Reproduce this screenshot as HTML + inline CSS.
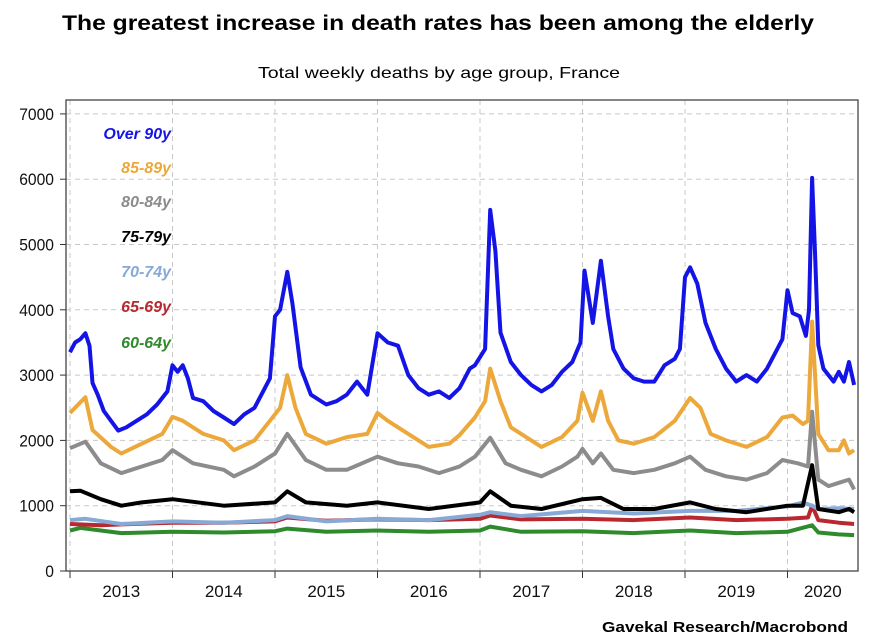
<!DOCTYPE html>
<html><head><meta charset="utf-8"><style>
html,body{margin:0;padding:0;background:#fff;}
svg{display:block;font-family:"Liberation Sans",sans-serif;}
</style></head><body>
<svg id="chart" width="883" height="639" viewBox="0 0 883 639">
<text x="438" y="30" text-anchor="middle" font-size="21" font-weight="bold" textLength="752" lengthAdjust="spacingAndGlyphs">The greatest increase in death rates has been among the elderly</text>
<text x="439" y="78" text-anchor="middle" font-size="16" textLength="362" lengthAdjust="spacingAndGlyphs">Total weekly deaths by age group, France</text>
<text x="848" y="632" text-anchor="end" font-size="15" font-weight="bold" textLength="246" lengthAdjust="spacingAndGlyphs">Gavekal Research/Macrobond</text>
<g id="grid"></g><g id="axes"></g><g id="series"></g><g id="legend"></g>
</svg>
<script>
const yTicks=[0,1000,2000,3000,4000,5000,6000,7000];
const years=["2013","2014","2015","2016","2017","2018","2019","2020"];
const seriesNames=["Over 90y","85-89y","80-84y","75-79y","70-74y","65-69y","60-64y"];
const seriesColors=["#1414e6","#eca83a","#8c8c8c","#000000","#86a9d6","#b8282e","#2e8a2a"];
// times in years since Jan 2013; values in deaths
const over90T=[0,0.05,0.1,0.15,0.19,0.22,0.27,0.33,0.4,0.47,0.55,0.65,0.75,0.85,0.95,1.0,1.05,1.1,1.15,1.2,1.3,1.4,1.5,1.6,1.7,1.8,1.9,1.95,2.0,2.05,2.12,2.17,2.25,2.35,2.5,2.6,2.7,2.8,2.9,3.0,3.1,3.2,3.3,3.4,3.5,3.6,3.7,3.8,3.9,3.95,4.05,4.1,4.15,4.2,4.3,4.4,4.5,4.6,4.7,4.8,4.9,4.98,5.02,5.1,5.18,5.25,5.3,5.4,5.5,5.6,5.7,5.8,5.9,5.95,6.0,6.05,6.12,6.2,6.3,6.4,6.5,6.6,6.7,6.8,6.9,6.95,7.0,7.05,7.12,7.18,7.21,7.24,7.27,7.3,7.35,7.4,7.45,7.5,7.55,7.6,7.65];
const over90V=[3350,3500,3550,3640,3450,2880,2700,2450,2300,2150,2200,2300,2400,2550,2750,3150,3050,3150,2950,2650,2600,2450,2350,2250,2400,2500,2800,2950,3900,4000,4580,4100,3120,2700,2550,2600,2700,2900,2700,3640,3500,3450,3000,2800,2700,2750,2650,2800,3100,3150,3400,5530,4900,3650,3200,3000,2850,2750,2850,3050,3200,3500,4600,3800,4750,3900,3400,3100,2950,2900,2900,3150,3250,3400,4500,4650,4400,3800,3400,3100,2900,3000,2900,3100,3400,3550,4300,3950,3900,3600,4000,6020,4800,3460,3100,3000,2900,3050,2900,3200,2850];
const o85T=[0,0.08,0.15,0.22,0.4,0.5,0.7,0.9,1.0,1.1,1.3,1.5,1.6,1.8,1.95,2.05,2.12,2.2,2.3,2.5,2.7,2.9,3.0,3.1,3.3,3.5,3.7,3.8,3.95,4.05,4.1,4.2,4.3,4.5,4.6,4.8,4.95,5.0,5.1,5.18,5.25,5.35,5.5,5.7,5.9,6.05,6.15,6.25,6.4,6.6,6.8,6.95,7.05,7.15,7.2,7.24,7.3,7.4,7.5,7.55,7.6,7.65];
const o85V=[2420,2550,2660,2160,1900,1800,1950,2100,2360,2300,2100,2000,1850,2000,2300,2500,3000,2500,2100,1950,2050,2100,2420,2300,2100,1900,1950,2080,2350,2600,3100,2600,2200,2000,1900,2050,2300,2730,2300,2750,2300,2000,1950,2050,2300,2650,2500,2100,2000,1900,2050,2350,2380,2250,2300,3820,2100,1850,1850,2000,1800,1850];
const o80T=[0,0.15,0.3,0.5,0.7,0.9,1.0,1.2,1.5,1.6,1.8,2.0,2.12,2.3,2.5,2.7,3.0,3.2,3.4,3.6,3.8,3.95,4.1,4.25,4.4,4.6,4.8,4.95,5.0,5.1,5.18,5.3,5.5,5.7,5.9,6.05,6.2,6.4,6.6,6.8,6.95,7.1,7.2,7.24,7.3,7.4,7.5,7.6,7.65];
const o80V=[1880,1980,1650,1500,1600,1700,1850,1650,1550,1450,1600,1800,2100,1700,1550,1550,1750,1650,1600,1500,1600,1750,2040,1650,1550,1450,1600,1750,1870,1650,1800,1550,1500,1550,1650,1750,1550,1450,1400,1500,1700,1650,1600,2440,1400,1300,1350,1400,1250];
const o75T=[0,0.1,0.3,0.5,0.7,1.0,1.5,2.0,2.12,2.3,2.7,3.0,3.5,4.0,4.1,4.3,4.6,5.0,5.18,5.4,5.7,6.05,6.3,6.6,7.0,7.15,7.24,7.3,7.5,7.6,7.65];
const o75V=[1220,1230,1100,1000,1050,1100,1000,1050,1220,1050,1000,1050,950,1050,1220,1000,950,1100,1120,950,950,1050,950,900,1000,1000,1620,950,900,950,900];
const o70T=[0,0.15,0.5,1.0,1.5,2.0,2.12,2.5,3.0,3.5,4.0,4.1,4.4,5.0,5.5,6.05,6.5,7.0,7.15,7.24,7.3,7.5,7.65];
const o70V=[780,800,720,760,740,780,840,760,800,780,860,900,840,920,880,920,920,990,1050,1000,950,960,950];
const o65T=[0,0.3,0.6,1.0,1.5,2.0,2.12,2.5,3.0,3.5,4.0,4.1,4.4,5.0,5.5,6.05,6.5,7.0,7.2,7.24,7.3,7.5,7.65];
const o65V=[720,700,720,740,740,760,820,770,790,780,800,850,790,800,780,820,780,800,820,1000,780,740,720];
const o60T=[0,0.1,0.5,1.0,1.5,2.0,2.12,2.5,3.0,3.5,4.0,4.1,4.4,5.0,5.5,6.05,6.5,7.0,7.24,7.3,7.5,7.65];
const o60V=[620,660,580,600,590,610,650,600,620,600,620,680,600,610,580,620,580,600,700,590,560,550];

const NS="http://www.w3.org/2000/svg";
const L=66,R=858,T=100,B=571;
const x0=70,yearW=102.5;
function xs(t){return x0+t*yearW;}
function ys(v){return B-v/1000*65.3;}
function mk(tag,attrs,parent){const e=document.createElementNS(NS,tag);for(const k in attrs)e.setAttribute(k,attrs[k]);parent.appendChild(e);return e;}
const grid=document.getElementById('grid'),axes=document.getElementById('axes'),ser=document.getElementById('series'),leg=document.getElementById('legend');
yTicks.forEach(v=>{
  if(v>0){const g=mk('line',{x1:L,x2:R,y1:ys(v),y2:ys(v),stroke:'#c8c8c8','stroke-width':1,'stroke-dasharray':'5,4'},grid);
  
  }
  const tk=mk('line',{x1:L-6,x2:L,y1:ys(v),y2:ys(v),stroke:'#333','stroke-width':1},axes);
  
  
  const tx=mk('text',{x:L-12,y:ys(v)+6,'text-anchor':'end','font-size':17,fill:'#111',transform:'translate('+(L-12)+',0) scale(0.92,1) translate('+(-(L-12))+',0)'},axes);
  tx.textContent=v;
  
  
});
years.forEach((y,i)=>{
  const gx=xs(i);
  const g=mk('line',{x1:gx,x2:gx,y1:T,y2:B,stroke:'#c8c8c8','stroke-width':1,'stroke-dasharray':'5,4'},grid);
  
  
  const tk=mk('line',{x1:gx,x2:gx,y1:B,y2:B+7,stroke:'#333','stroke-width':1},axes);
  
  
  const cx=i<7?xs(i+0.5):(xs(7)+R)/2;
  const tx=mk('text',{x:cx,y:597,'text-anchor':'middle','font-size':17,fill:'#111'},axes);
  tx.textContent=y;
  
  
});
const frame=mk('rect',{x:L,y:T,width:R-L,height:B-T,fill:'none',stroke:'#444','stroke-width':1.3},axes);


const allT=[over90T,o85T,o80T,o75T,o70T,o65T,o60T];
const allV=[over90V,o85V,o80V,o75V,o70V,o65V,o60V];
const keys=["over-90","85-89","80-84","75-79","70-74","65-69","60-64"];
for(let s=6;s>=0;s--){
  const d=allT[s].map((t,i)=>(i?'L':'M')+xs(t).toFixed(1)+','+ys(allV[s][i]).toFixed(1)).join(' ');
  const p=mk('path',{d:d,fill:'none',stroke:seriesColors[s],'stroke-width':4,'stroke-linejoin':'round'},ser);
  
  
}
const legY=[133,167,201,236,271,306,342];
seriesNames.forEach((n,i)=>{
  const t=mk('text',{x:171,y:legY[i]+6,'text-anchor':'end','font-size':16,'font-weight':'bold','font-style':'italic',fill:seriesColors[i]},leg);
  t.textContent=n;
  
  
});
</script>
</body></html>
